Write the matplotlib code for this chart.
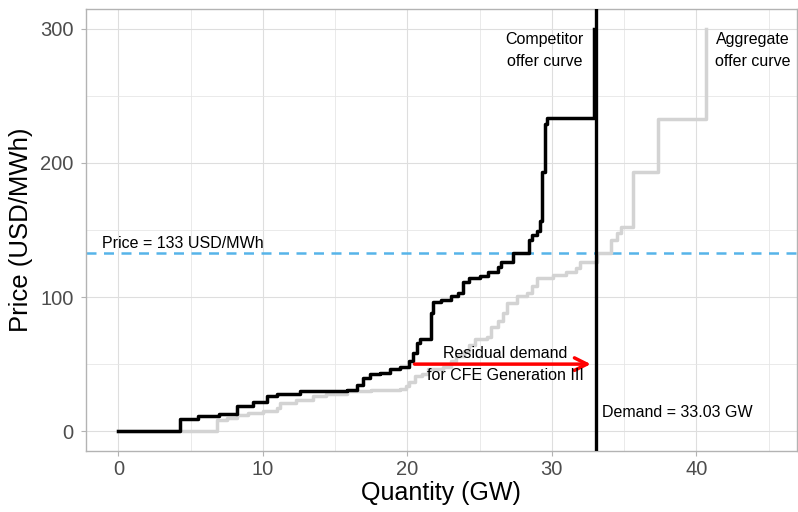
import matplotlib
matplotlib.use("Agg")
import matplotlib.pyplot as plt
from matplotlib.ticker import MultipleLocator

plt.rcParams['font.family'] = ['Liberation Sans', 'DejaVu Sans']

# competitor offer curve (step function: quantity where price changes, new price)
comp_q = [0, 4.3, 5.5, 7.0, 8.2, 9.3, 10.3, 11.0, 12.6, 15.8, 16.5, 16.9, 17.4,
          18.1, 18.8, 19.5, 20.1, 20.4, 20.65, 20.9, 21.65, 21.75, 22.3, 23.0,
          23.5, 23.85, 24.3, 25.0, 25.6, 26.3, 26.45, 27.3, 28.4, 28.6, 28.95,
          29.15, 29.3, 29.5, 29.7, 32.9]
comp_p = [0, 9, 11, 13, 19, 22, 26, 28, 30, 31, 34.5, 39.5, 42.5,
          43.5, 46, 48, 52, 58, 65.5, 68.5, 88, 96, 98, 100.5,
          103, 111.5, 114, 116, 119, 122.5, 126, 132.5, 142.5, 146, 149,
          157, 193, 229, 233.5, 300]

# aggregate offer curve
agg_q = [0, 6.8, 7.5, 8.2, 9.0, 10.0, 11.0, 11.2, 12.3, 13.5, 14.4, 15.8, 17.5,
         19.5, 19.9, 20.1, 20.5, 21.0, 21.4, 22.5, 23.0, 23.4, 23.9, 24.3, 24.7,
         25.5, 25.8, 26.3, 26.6, 26.9, 27.6, 28.3, 28.6, 29.0, 30.1, 31.0, 31.7,
         31.95, 33.1, 34.1, 34.5, 34.8, 35.6, 37.35, 40.7]
agg_p = [0, 8.7, 10, 12.4, 13.5, 15, 17.4, 21, 23.6, 26, 28, 29.7, 30.5,
         31.5, 34, 37, 41, 43, 46, 48, 52, 56, 60, 64, 69,
         70.5, 78, 82, 88, 95.5, 100.5, 103, 108, 114, 116.5, 119, 121.5,
         126.5, 133, 142.5, 147.5, 152.5, 193.5, 233, 300]

price = 133
demand = 33.03

fig = plt.figure(figsize=(7.98, 5.12), dpi=100)
ax = fig.add_axes([85.7 / 798, 60.7 / 512, (797 - 85.7) / 798, (451.3 - 8.7) / 512])

ax.step(agg_q, agg_p, where='post', color='#D3D3D3', lw=2.5, zorder=3)
ax.step(comp_q, comp_p, where='post', color='black', lw=2.5, zorder=4)

ax.axhline(price, color='#56B4E9', lw=1.8, linestyle=(0, (4, 3)), zorder=2)
ax.axvline(demand, color='black', lw=2.4, zorder=5)

ax.annotate('', xy=(32.7, 50), xytext=(20.5, 50),
            arrowprops=dict(arrowstyle='->,head_length=0.9,head_width=0.45',
                            color='red', lw=2.5, shrinkA=0, shrinkB=0,
                            mutation_scale=10), zorder=6)

txt = dict(fontsize=11.5, color='black', linespacing=1.6, zorder=7)
ax.text(-1.1, 140, f'Price = {price} USD/MWh', ha='left', va='center', **txt)
ax.text(33.5, 14, f'Demand = {demand} GW', ha='left', va='center', **txt)
ax.text(26.8, 50, 'Residual demand\nfor CFE Generation III', ha='center', va='center', **txt)
ax.text(29.5, 284, 'Competitor\noffer curve', ha='center', va='center', **txt)
ax.text(43.9, 284, 'Aggregate\noffer curve', ha='center', va='center', **txt)

ax.set_xlim(-2.26, 46.97)
ax.set_ylim(-15, 315)
ax.xaxis.set_major_locator(MultipleLocator(10))
ax.xaxis.set_minor_locator(MultipleLocator(5))
ax.yaxis.set_major_locator(MultipleLocator(100))
ax.yaxis.set_minor_locator(MultipleLocator(50))

ax.grid(which='major', color='#DEDEDE', lw=0.8)
ax.grid(which='minor', color='#E6E6E6', lw=0.6)
ax.set_axisbelow(True)
for s in ax.spines.values():
    s.set_color('#B3B3B3')
    s.set_linewidth(1.0)

ax.tick_params(which='major', length=3.6, width=0.8, color='#B3B3B3',
               labelsize=14.5, labelcolor='#4D4D4D')
ax.tick_params(axis='y', which='major', pad=5)
ax.tick_params(axis='x', which='major', pad=3)
ax.tick_params(which='minor', length=0)

ax.set_xlabel('Quantity (GW)', fontsize=18, labelpad=1)
ax.set_ylabel('Price (USD/MWh)', fontsize=18.5, labelpad=5)

fig.savefig('out.png', dpi=100)
